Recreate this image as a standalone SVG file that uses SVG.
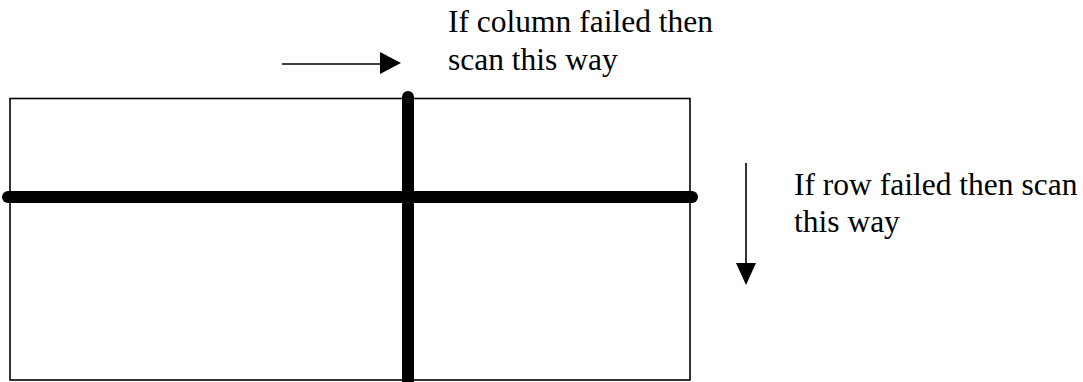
<svg xmlns="http://www.w3.org/2000/svg" width="1083" height="382" viewBox="0 0 1083 382">
<style>
.t{font-family:"Liberation Serif","Times New Roman",serif;font-size:31.5px;fill:#000}
.thick{stroke:#000;stroke-width:12;stroke-linecap:round;fill:none}
.thin{stroke:#000;stroke-width:1.6;fill:none}
</style>
<rect width="1083" height="382" fill="#fff"/>
<g id="grid">
<rect x="10" y="98.5" width="680" height="281.5" class="thin"/>
</g>
<g id="connectors">
<line x1="8" y1="197" x2="692" y2="197" class="thick"/>
<line x1="408" y1="97" x2="408" y2="390" class="thick"/>
<line x1="282" y1="64" x2="382" y2="64" class="thin"/>
<polygon points="380,52 401,63 380,74"/>
<line x1="746" y1="163" x2="746" y2="265" class="thin"/>
<polygon points="736,263 756,263 746,285"/>
</g>
<g id="label-column">
<text class="t" x="448" y="32">If column failed then</text>
<text class="t" x="448" y="70">scan this way</text>
</g>
<g id="label-row">
<text class="t" x="794" y="195">If row failed then scan</text>
<text class="t" x="794" y="232">this way</text>
</g>
</svg>
